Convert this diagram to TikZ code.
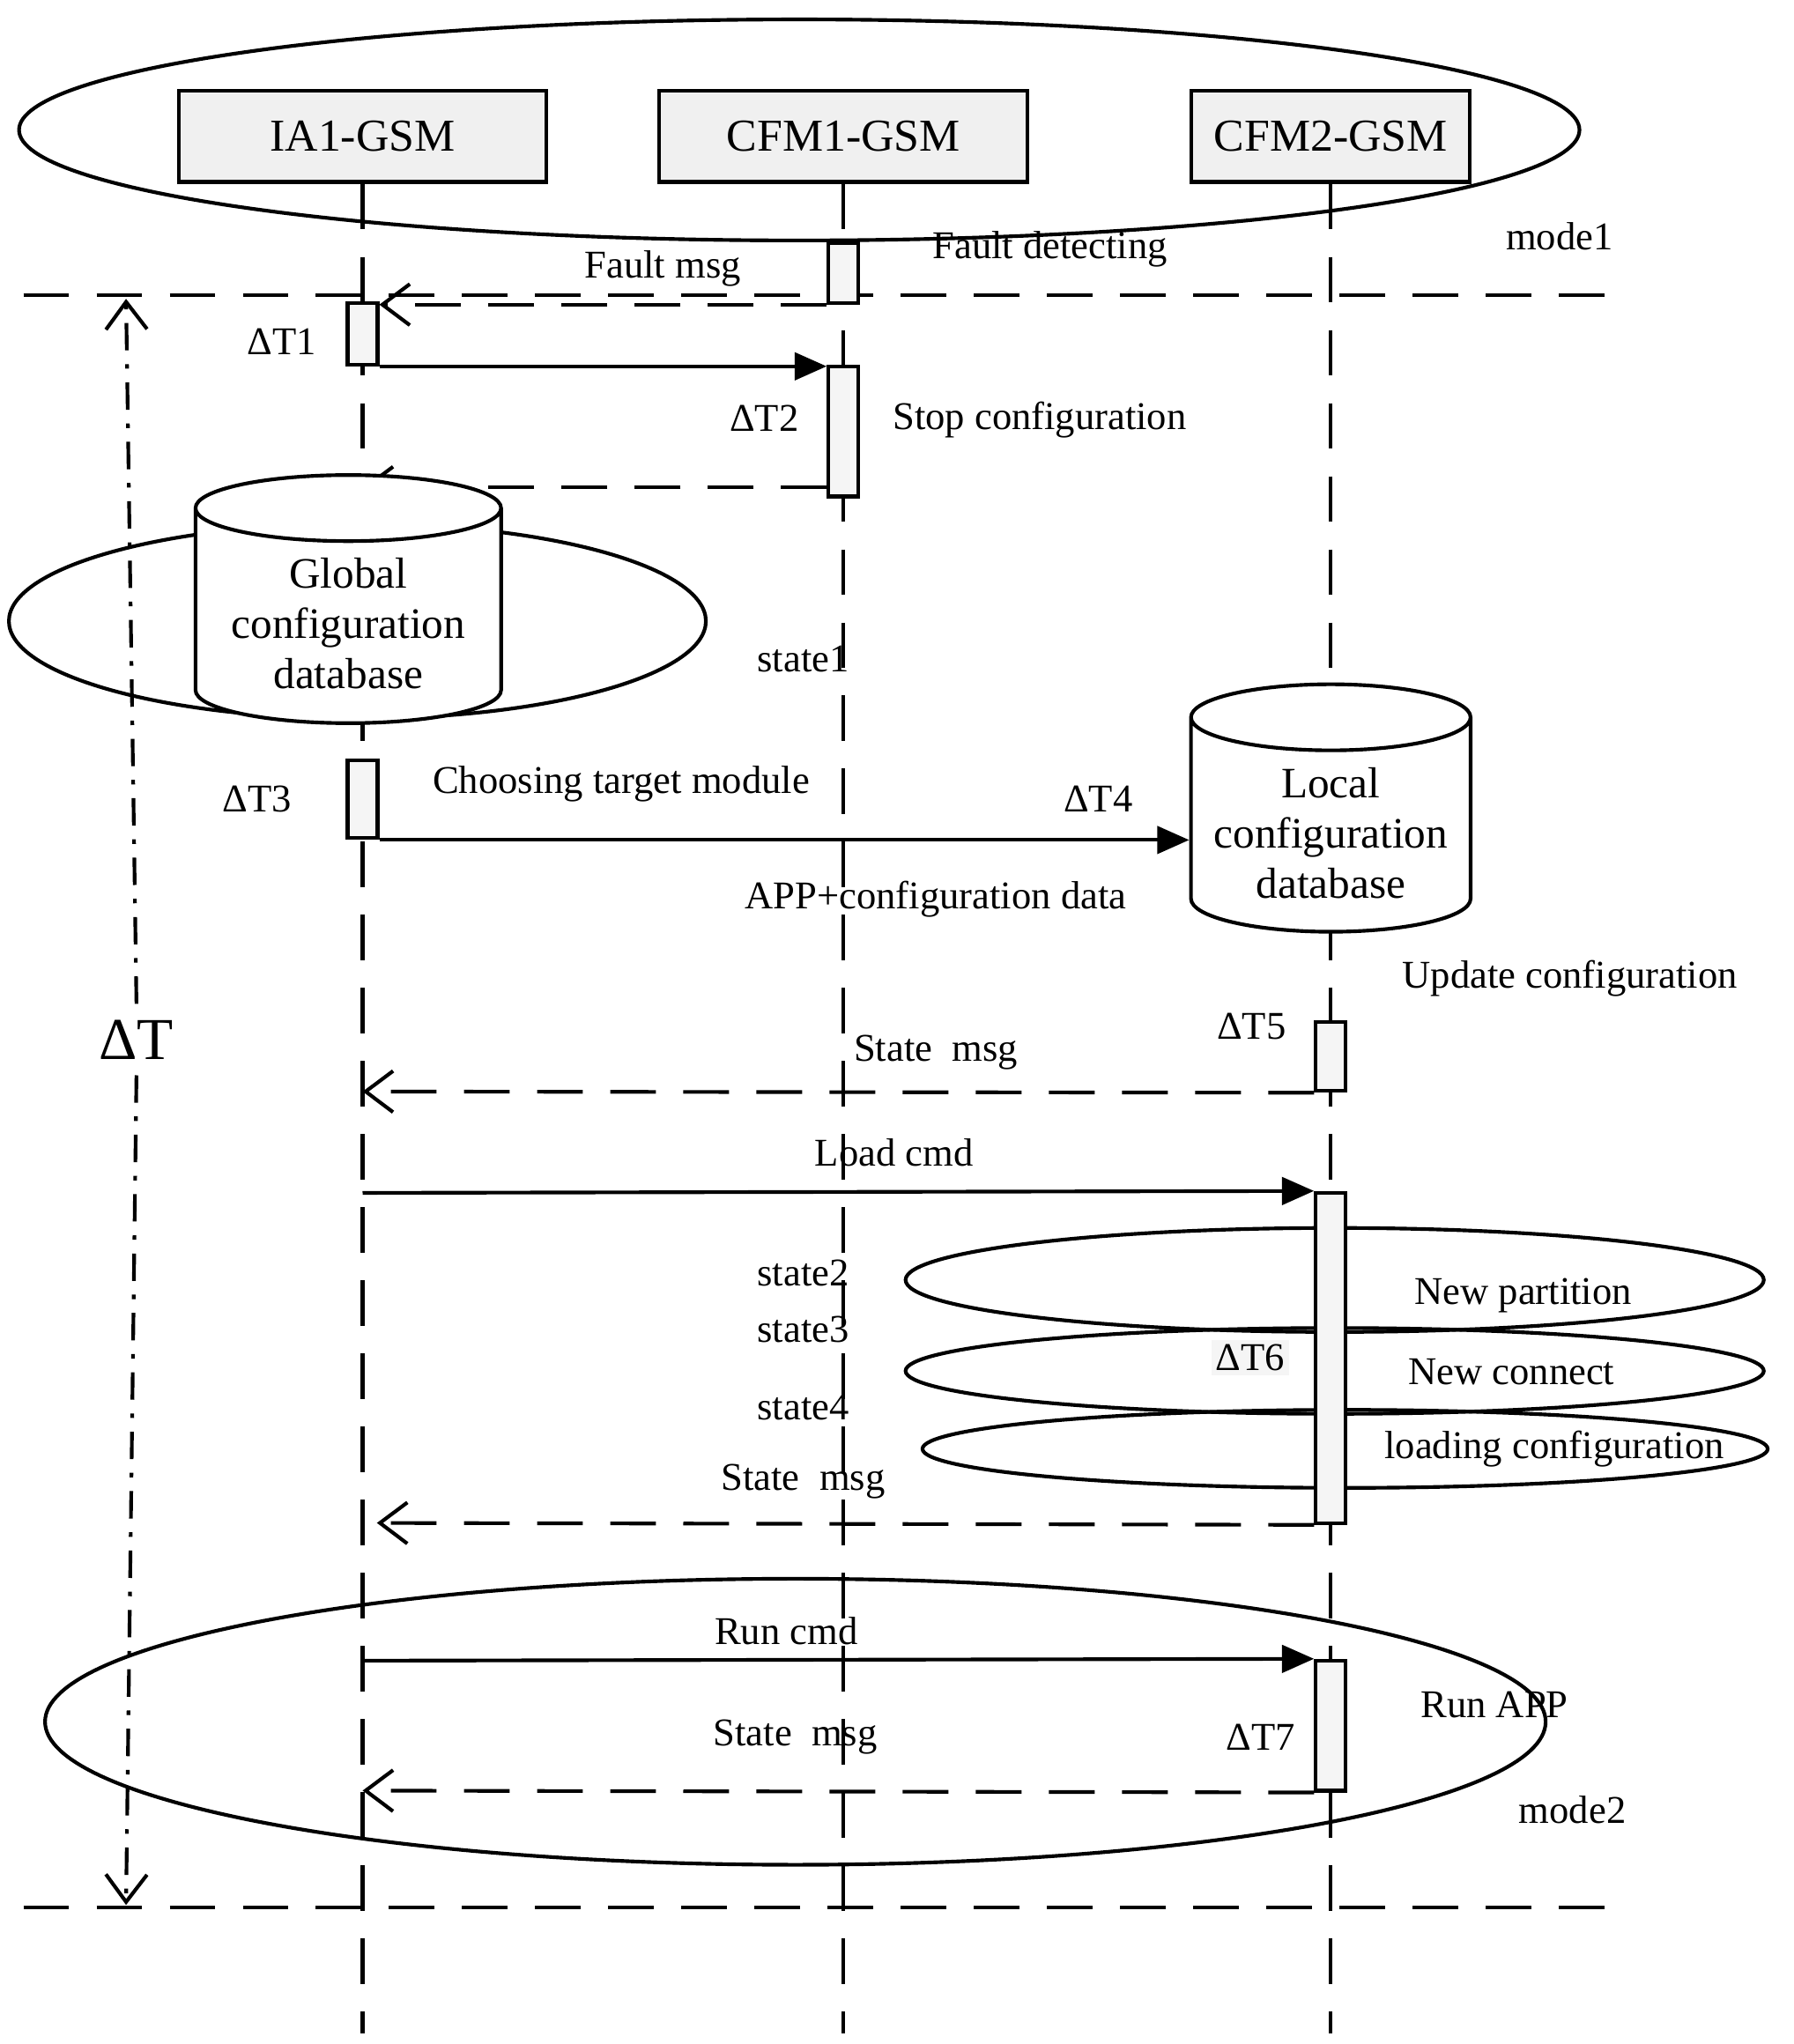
\documentclass[tikz,border=0pt]{standalone}
\usepackage{fontspec}
\setmainfont{Liberation Serif}
\usetikzlibrary{arrows.meta,shapes.geometric}
\tikzset{
  gsm/.style={draw,thick,fill=gray!12,minimum width=2.83cm,minimum height=0.7cm,font=\fontsize{10}{12}\selectfont},
  act/.style={draw,thick,fill=gray!8,minimum width=0.23cm,inner sep=0pt},
  life/.style={dashed,thick,dash pattern=on 10pt off 6pt},
  req/.style={-{Triangle[length=7pt,width=6pt]},thick},
  rep/.style={-{Straight Barb[length=6pt,width=9pt]},thick,dash pattern=on 10pt off 6pt},
  zone/.style={draw,thick,ellipse},
  db/.style={draw,thick,cylinder,shape border rotate=90,aspect=0.25,align=center,fill=white},
}
\begin{document}
\begin{tikzpicture}[x=0.01cm,y=-0.01cm,font=\fontsize{8.6}{10}\selectfont]
\useasboundingbox (0,0) rectangle (1380,1573);
%\draw[step=100,gray,very thin] (0,0) grid (1380,1573);

% mode1
\node[zone,minimum width=12cm,minimum height=1.7cm] (mode1) at (615,100) {};
\node[gsm] (ia) at (279,105) {IA1-GSM};
\node[gsm] (cfma) at (649,105) {CFM1-GSM};
\node[gsm,minimum width=2.14cm] (cfmb) at (1024,105) {CFM2-GSM};
\node at (1200,182) {mode1};

% life lines
\coordinate (iaend) at (279,1565);
\coordinate (cfmaend) at (649,1565);
\coordinate (cfmbend) at (1024,1565);
\draw[life] (ia.south) -- (iaend);
\draw[life] (cfma.south) -- (cfmbend -| cfma.south);
\draw[life] (cfmb.south) -- (cfmbend);

% phase borders
\coordinate (b1w) at (18,227);  \coordinate (b1e) at (1240,227);
\coordinate (b2w) at (18,1468); \coordinate (b2e) at (1240,1468);
\draw[life] (b1w) -- (b1e);
\draw[life] (b2w) -- (b2e);

% fault
\node[act,minimum height=0.46cm] (f1) at (649,210) {};
\node at (808,192) {Fault detecting};
\node at (510,207) {Fault msg};
\node[act,minimum height=0.47cm] (t1) at (279,257) {};
\draw[rep] (f1.south west) -- (f1.south west -| t1.north east);
\node at (217,263) {ΔT1};

% stop
\node[act,minimum height=1.0cm] (t2) at (649,332) {};
\draw[req] (t1.south east) -- (t1.south east -| t2.north west);
\node at (588,322) {ΔT2};
\node at (800,323) {Stop configuration};
\coordinate (r2) at (279,375);
\draw[rep] (t2.west |- r2) -- (r2);

% state1
\node[zone,minimum width=5.36cm,minimum height=1.5cm] (state1) at (275,478) {};
\node[db,minimum width=2.35cm,minimum height=1.3cm,font=\fontsize{9.5}{11}\selectfont] (gdb) at (268,480) {Global\\configuration\\database};
\node at (618,507) {state1};

% choose target
\node[act,minimum height=0.6cm] (t3) at (279,615) {};
\node at (198,615) {ΔT3};
\node at (478,603) {Choosing target module};
\node[db,minimum width=2.15cm,minimum height=1.27cm,font=\fontsize{9.5}{11}\selectfont] (ldb) at (1024,641) {Local\\configuration\\database};
\draw[req] (t3.south east) -- (ldb.west |- t3.south east);
\node at (845,615) {ΔT4};
\node at (720,692) {APP+configuration data};
\node at (1208,753) {Update configuration};

% state msg
\node[act,minimum height=0.53cm] (t5) at (1024,813) {};
\node at (963,790) {ΔT5};
\node at (720,810) {State\ \ msg};
\coordinate (r5) at (279,840);
\draw[rep] (t5.south west) -- (r5);

% load
\node at (688,887) {Load cmd};
\node[act,minimum height=2.54cm] (t6) at (1024,1045) {};
\coordinate (l6) at (279,918);
\draw[req] (l6) -- (t6.north west);
\node[zone,minimum width=6.6cm,minimum height=0.8cm] (s2) at (1027,985) {};
\node[zone,minimum width=6.6cm,minimum height=0.66cm] (s3) at (1027,1055) {};
\node[zone,minimum width=6.5cm,minimum height=0.6cm] (s4) at (1035,1115) {};
\node[act,minimum height=2.54cm] at (1024,1045) {};
\node at (1172,997) {New partition};
\node at (1163,1056) {New connect};
\node at (1196,1115) {loading configuration};
\node[fill=gray!8,inner sep=1pt] at (962,1045) {ΔT6};
\node at (618,980) {state2};
\node at (618,1023) {state3};
\node at (618,1083) {state4};
\node at (618,1140) {State\ \ msg};
\coordinate (r6) at (290,1172);
\draw[rep] (t6.south west) -- (r6);

% mode2
\node[zone,minimum width=11.54cm,minimum height=2.2cm] (mode2) at (612,1325) {};
\node at (605,1255) {Run cmd};
\node[act,minimum height=1.0cm] (t7) at (1024,1328) {};
\coordinate (l7) at (279,1278);
\draw[req] (l7) -- (t7.north west);
\node at (970,1337) {ΔT7};
\node at (1150,1312) {Run APP};
\node at (612,1337) {State\ \ msg};
\coordinate (r7) at (279,1378);
\draw[rep] (t7.south west) -- (r7);
\node at (1210,1393) {mode2};

% total time
\coordinate (dtop) at (97,230);
\coordinate (dbot) at (97,1466);
\node[font=\fontsize{13}{15}\selectfont] (dt) at (105,800) {ΔT};
\draw[thick,dash pattern=on 6pt off 3pt on 1pt off 3pt,-{Straight Barb[length=6pt,width=9pt]}] (dt.north) -- (dtop);
\draw[thick,dash pattern=on 6pt off 3pt on 1pt off 3pt,-{Straight Barb[length=6pt,width=9pt]}] (dt.south) -- (dbot);
\end{tikzpicture}
\end{document}
